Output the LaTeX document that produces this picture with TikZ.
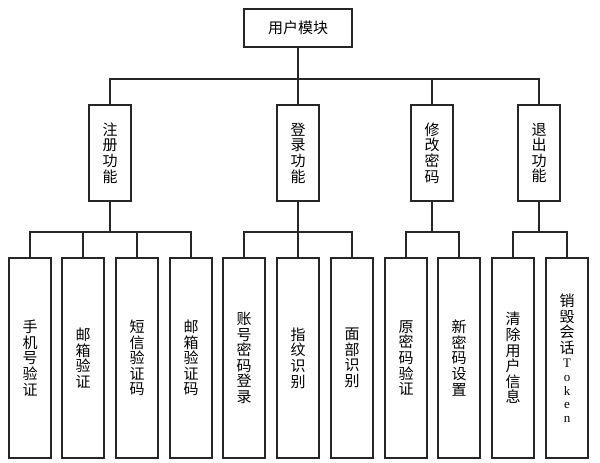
\documentclass[tikz,border=0pt]{standalone}
\usepackage{fontspec}
\setmainfont{Noto Sans CJK SC}
\newfontfamily\tokfont{Liberation Serif}
\newcommand\tkl[1]{{\tokfont\fontsize{13}{13}\selectfont #1}}
\begin{document}
\begin{tikzpicture}[x=1pt,y=-1pt,
  box/.style={draw=black!85, line width=2pt, fill=white, inner sep=0pt, align=center, font=\fontsize{15}{15.6}\selectfont},
  topbox/.style={box, minimum width=108pt, minimum height=38pt},
  midbox/.style={box, minimum width=42pt, minimum height=96pt},
  leafbox/.style={box, minimum width=42pt, minimum height=200pt},
  wire/.style={draw=black!85, line width=2pt}]
\useasboundingbox (0,0) rectangle (600,463);
\fill[white] (0,0) rectangle (600,463);
% top
\node[topbox] (top) at (298,28) {用户模块};
% level 2
\node[midbox] (m1) at (110,153) {注\\册\\功\\能};
\node[midbox] (m2) at (298,153) {登\\录\\功\\能};
\node[midbox] (m3) at (432,153) {修\\改\\密\\码};
\node[midbox] (m4) at (539,153) {退\\出\\功\\能};
% level 3
\node[leafbox] (l1) at (30,358) {手\\机\\号\\验\\证};
\node[leafbox] (l2) at (83,358) {邮\\箱\\验\\证};
\node[leafbox] (l3) at (137,358) {短\\信\\验\\证\\码};
\node[leafbox] (l4) at (191,358) {邮\\箱\\验\\证\\码};
\node[leafbox] (l5) at (244,358) {账\\号\\密\\码\\登\\录};
\node[leafbox] (l6) at (298,358) {指\\纹\\识\\别};
\node[leafbox] (l7) at (352,358) {面\\部\\识\\别};
\node[leafbox] (l8) at (406,358) {原\\密\\码\\验\\证};
\node[leafbox] (l9) at (459,358) {新\\密\\码\\设\\置};
\node[leafbox] (l10) at (513,358) {清\\除\\用\\户\\信\\息};
\node[leafbox] (l11) at (567,358) {销\\毁\\会\\话\\[-1pt]\tkl{T}\\[-2pt]\tkl{o}\\[-2pt]\tkl{k}\\[-2pt]\tkl{e}\\[-2pt]\tkl{n}};
% buses
\coordinate (bus1) at (298,79);
\coordinate (bus2) at (0,232);
\draw[wire] (top.south) -- (top.south |- bus1);
\draw[wire] (m1.north) -- (m1.north |- bus1) -- (m4.north |- bus1) -- (m4.north);
\draw[wire] (m2.north) -- (m2.north |- bus1);
\draw[wire] (m3.north) -- (m3.north |- bus1);
% group 1
\draw[wire] (m1.south) -- (m1.south |- bus2);
\draw[wire] (l1.north) -- (l1.north |- bus2) -- (l4.north |- bus2) -- (l4.north);
\draw[wire] (l2.north) -- (l2.north |- bus2);
\draw[wire] (l3.north) -- (l3.north |- bus2);
% group 2
\draw[wire] (m2.south) -- (m2.south |- bus2);
\draw[wire] (l5.north) -- (l5.north |- bus2) -- (l7.north |- bus2) -- (l7.north);
\draw[wire] (l6.north) -- (l6.north |- bus2);
% group 3
\draw[wire] (m3.south) -- (m3.south |- bus2);
\draw[wire] (l8.north) -- (l8.north |- bus2) -- (l9.north |- bus2) -- (l9.north);
% group 4
\draw[wire] (m4.south) -- (m4.south |- bus2);
\draw[wire] (l10.north) -- (l10.north |- bus2) -- (l11.north |- bus2) -- (l11.north);
\end{tikzpicture}
\end{document}
